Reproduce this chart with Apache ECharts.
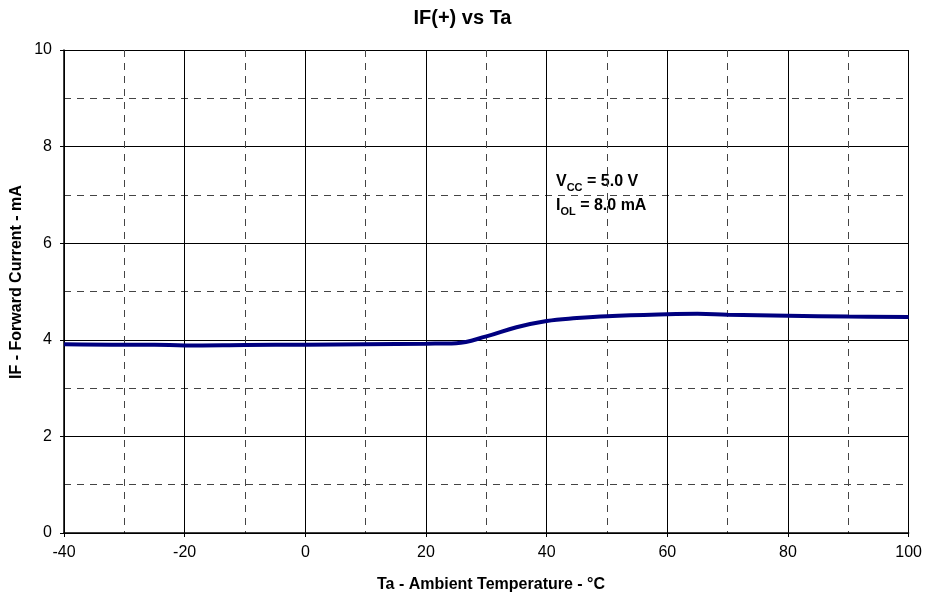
<!DOCTYPE html>
<html><head><meta charset="utf-8">
<script src="https://cdn.jsdelivr.net/npm/echarts@6/dist/echarts.min.js"></script>
<style>html,body{margin:0;padding:0;background:#fff}#c{width:925px;height:597px}</style>
</head><body><div id="c"></div>
<script>
var temps = [-40, -30, -25, -20, -10, 0, 10, 20, 25, 30, 35, 40, 45, 50, 60, 65, 70, 80, 90, 100];
var current = [3.91, 3.90, 3.90, 3.88, 3.89, 3.90, 3.91, 3.92, 3.93, 4.07, 4.26, 4.39, 4.45, 4.49, 4.53, 4.54, 4.52, 4.50, 4.48, 4.47];
var xTicks = [-40, -20, 0, 20, 40, 60, 80, 100];
var yTicks = [0, 2, 4, 6, 8, 10];
var titleText = 'IF(+) vs Ta';
var xName = 'Ta - Ambient Temperature - °C';
var yName = 'IF - Forward Current - mA';

var font = '"Liberation Sans", Arial, sans-serif';
var chart = echarts.init(document.getElementById('c'));
chart.setOption({
  animation: false,
  backgroundColor: '#fff',
  title: { text: titleText, left: 'center', top: 3,
    textStyle: { fontFamily: font, fontSize: 20, fontWeight: 'bold', color: '#000' } },
  grid: { left: 64, right: 15, top: 50, bottom: 64, containLabel: false },
  xAxis: {
    type: 'value', min: -40, max: 100, interval: 20,
    axisLine: { show: true, onZero: false, lineStyle: { color: '#000', width: 1.5 } },
    axisTick: { show: true, length: 4, lineStyle: { color: '#000' } },
    axisLabel: { margin: 12, fontFamily: font, fontSize: 16, color: '#000',
      formatter: function (v) { return xTicks.indexOf(v) >= 0 ? String(v) : ''; } },
    splitLine: { show: true, lineStyle: { color: '#000', width: 1 } },
    minorTick: { show: false, splitNumber: 2 },
    minorSplitLine: { show: true, lineStyle: { color: '#444', width: 1, type: [7, 6] } }
  },
  yAxis: {
    type: 'value', min: 0, max: 10, interval: 2,
    axisLine: { show: true, onZero: false, lineStyle: { color: '#000', width: 1.5 } },
    axisTick: { show: true, length: 4, lineStyle: { color: '#000' } },
    axisLabel: { margin: 12, fontFamily: font, fontSize: 16, color: '#000',
      formatter: function (v) { return yTicks.indexOf(v) >= 0 ? String(v) : ''; } },
    splitLine: { show: true, lineStyle: { color: '#000', width: 1 } },
    minorTick: { show: false, splitNumber: 2 },
    minorSplitLine: { show: true, lineStyle: { color: '#444', width: 1, type: [7, 6] } }
  },
  series: [{
    type: 'line', smooth: 0.4, symbol: 'none',
    data: temps.map(function (t, i) { return [t, current[i]]; }),
    lineStyle: { color: '#000080', width: 4 }
  }],
  graphic: [{
    type: 'text', x: 491, y: 585,
    style: { text: xName, fontFamily: font, fontSize: 16, fontWeight: 'bold', fill: '#000', align: 'center', verticalAlign: 'middle' }
  }, {
    type: 'text', x: 17, y: 282, rotation: Math.PI / 2,
    style: { text: yName, fontFamily: font, fontSize: 16, fontWeight: 'bold', fill: '#000', align: 'center', verticalAlign: 'middle' }
  }, {
    type: 'text', left: 556, top: 174,
    style: {
      text: '{b|V}{s|CC}{b| = 5.0 V}\n{b|I}{s|OL}{b| = 8.0 mA}',
      rich: {
        b: { fontFamily: font, fontSize: 16, fontWeight: 'bold', fill: '#000', verticalAlign: 'bottom', padding: [0, 0, 3, 0], lineHeight: 24 },
        s: { fontFamily: font, fontSize: 11, fontWeight: 'bold', fill: '#000', verticalAlign: 'bottom', lineHeight: 24 }
      }
    }
  }]
});
</script></body></html>
